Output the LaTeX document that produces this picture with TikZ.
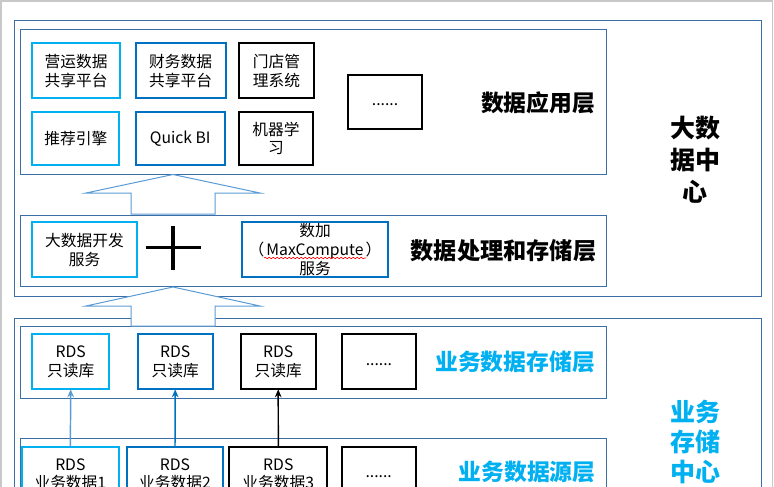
\documentclass[tikz,border=0pt]{standalone}
\usepackage{fontspec}
\setmainfont{Noto Sans CJK SC}
\usetikzlibrary{arrows.meta,decorations.pathmorphing}
\definecolor{framec}{HTML}{C8C8C8}
\definecolor{contc}{HTML}{3A6EA5}
\definecolor{cyanb}{HTML}{00B0F0}
\definecolor{blueb}{HTML}{0070C0}
\definecolor{lblue}{HTML}{5B9BD5}
\begin{document}
\begin{tikzpicture}[x=0.75pt,y=-0.75pt,
  container/.style={draw=contc,line width=0.75pt},
  blockarrow/.style={draw=lblue,fill=white,line width=0.75pt,line join=miter},
  bx/.style={draw,line width=1.4pt,inner sep=0pt,outer sep=0pt,align=center,
    font=\fontsize{11.8}{14}\selectfont},
  sz/.style 2 args={minimum width=#1*0.75pt,minimum height=#2*0.75pt},
  cy/.style={bx,draw=cyanb},
  bl/.style={bx,draw=blueb},
  bk/.style={bx,draw=black},
  layerlabel/.style={font=\fontsize{17.1}{20}\selectfont\bfseries,inner sep=0pt},
  centerlabel/.style={font=\fontsize{18.75}{24}\selectfont\bfseries,inner sep=0pt,align=center},
  conn/.style={line width=1.1pt,-{Stealth[length=6pt,width=5pt]}}
]
\useasboundingbox (0,0) rectangle (774,486);
\clip (0,0) rectangle (774,486);
% slide frame
\draw[framec,line width=1.2pt] (1,520) -- (1,1) -- (772.5,1) -- (772.5,520);

% containers
\draw[container] (14.3,20.7) rectangle (761.5,296.7);
\draw[container] (20.7,29.3) rectangle (606.7,174.3);
\draw[container] (20.7,215) rectangle (606.7,286.7);
\draw[container] (14.3,318.3) rectangle (761.5,530);
\draw[container] (20.7,326.3) rectangle (606.7,398.3);
\draw[container] (20.7,438) rectangle (606.7,530);

% block arrows
\draw[blockarrow] (131,214) -- (131,193) -- (86,193) -- (173,174.5) -- (260,193) -- (215,193) -- (215,214) -- cycle;
\draw[blockarrow] (131,326) -- (131,306) -- (86,306) -- (173,287) -- (260,306) -- (215,306) -- (215,326) -- cycle;

% application layer
\node[cy,sz={87.7}{55}] (a1) at (76.2,70.8) {营运数据\\共享平台};
\node[bl,sz={90}{55}] (a2) at (180.7,70.8) {财务数据\\共享平台};
\node[bk,sz={75.6}{55}] (a3) at (276.5,70.8) {门店管\\理系统};
\node[bk,sz={74.6}{54.3}] (a4) at (385,101.8) {\strut......};
\node[cy,sz={87}{53.3}] (b1) at (75.8,138.3) {推荐引擎};
\node[bl,sz={89}{53.3}] (b2) at (180.2,138.3) {Quick BI};
\node[bk,sz={74.6}{53.3}] (b3) at (276,138.3) {机器学\\习};
\node[layerlabel] (l1) at (538,103) {数据应用层};

% processing layer
\node[cy,sz={104.4}{55}] (p1) at (84.5,249.8) {大数据开发\\服务};
\draw[line width=2.4pt] (146,247.3) -- (200.7,247.3);
\draw[line width=2.4pt] (173,225.7) -- (173,270);
\node[bl,sz={145.4}{55},font=\fontsize{11.8}{14.3}\selectfont] (p2) at (315,249.5) {数加\\（\hspace{1.5pt}MaxCompute\hspace{1.5pt}）\\服务};
\draw[red,line width=0.45pt,decorate,decoration={snake,segment length=3pt,amplitude=0.6pt}] (264,258) -- (366,258);
\node[layerlabel,font=\fontsize{17.4}{21}\selectfont\bfseries] (l2) at (503.5,250.8) {数据处理和存储层};

\node[centerlabel] (c1) at (695,160) {大数\\据中\\心};

% business storage layer
\node[cy,sz={76.7}{55}] (s1) at (70.7,361.8) {RDS\\只读库};
\node[bl,sz={75}{55}] (s2) at (175.2,361.8) {RDS\\只读库};
\node[bk,sz={75}{55}] (s3) at (278.2,361.8) {RDS\\只读库};
\node[bk,sz={74.3}{55}] (s4) at (378.9,361.8) {\strut......};
\node[layerlabel,text=cyanb] (l3) at (515,362) {业务数据存储层};

% business source layer
\node[cy,sz={97.3}{55}] (d1) at (70.35,474.2) {RDS\\业务数据1};
\node[bl,sz={96.6}{55}] (d2) at (175,474.2) {RDS\\业务数据2};
\node[bk,sz={98}{55}] (d3) at (278.3,474.2) {RDS\\业务数据3};
\node[bk,sz={74}{55}] (d4) at (378.7,474.2) {\strut......};
\node[layerlabel,text=cyanb] (l4) at (527,472) {业务数据源层};

\node[centerlabel,text=cyanb,font=\fontsize{18.75}{22.5}\selectfont\bfseries] (c2) at (695,441.7) {业务\\存储\\中心};

% connectors
\draw[conn,lblue] (d1.north) -- (s1.south);
\draw[conn,blueb] (d2.north) -- (s2.south);
\draw[conn,black] (d3.north) -- (s3.south);
\end{tikzpicture}
\end{document}
